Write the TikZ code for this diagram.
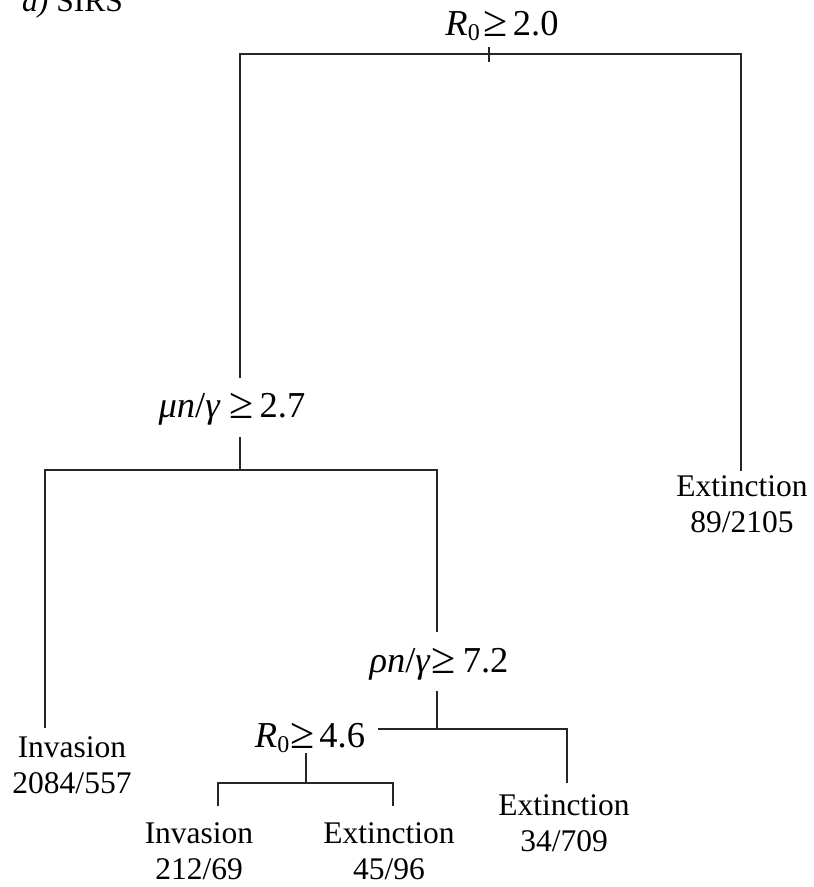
\documentclass[tikz,border=0pt]{standalone}
\usepackage{fontspec}
\setmainfont{Liberation Serif}
\begin{document}
\begin{tikzpicture}[x=1pt,y=-1pt,
  edge/.style={draw=black!85,line width=1.1pt},
  leaf/.style={inner sep=0pt,anchor=base,font=\fontsize{31.5}{36}\selectfont},
  split/.style={inner sep=0pt,anchor=base,font=\fontsize{36.5}{38}\selectfont}]
\useasboundingbox (0,0) rectangle (814,887);
\newcommand{\subz}[1]{\raisebox{-0.16em}{\fontsize{24}{24}\selectfont #1}}
\newcommand{\gte}{\raisebox{-0.05em}{\fontsize{44}{44}\selectfont ≥}}
\newcommand{\lf}[2]{\begin{tabular}[t]{@{}c@{}}#1\\#2\end{tabular}}
% title
\node[leaf,anchor=base west] (title) at (22,11) {\textit{a)} SIRS};
% split labels
\node[split] (s1) at (502,35) {\textit{R}\subz{0}\hspace{4pt}\gte\hspace{5pt}2.0};
\node[split] (s2) at (232,417) {\textit{μn}/\textit{γ}\hspace{9pt}\gte\hspace{6pt}2.7};
\node[split] (s3) at (439,672) {\textit{ρn}/\textit{γ}\hspace{1pt}\gte\hspace{7pt}7.2};
\node[split] (s4) at (310,747) {\textit{R}\subz{0}\hspace{1pt}\gte\hspace{5pt}4.6};
% leaves
\node[leaf] (e1) at (742,496) {\lf{Extinction}{89/2105}};
\node[leaf] (i1) at (72,757) {\lf{Invasion}{2084/557}};
\node[leaf] (e2) at (564,815) {\lf{Extinction}{34/709}};
\node[leaf] (i2) at (199,843) {\lf{Invasion}{212/69}};
\node[leaf] (e3) at (389,843) {\lf{Extinction}{45/96}};
% branch coordinates
\coordinate (t1a) at (489,47); \coordinate (t1b) at (489,62);
\coordinate (c1L) at (240,54); \coordinate (c1R) at (741,54);
\coordinate (e1t) at (741,471); \coordinate (s2t) at (240,378);
\coordinate (t2a) at (240,437); \coordinate (t2b) at (240,470);
\coordinate (c2L) at (45,470); \coordinate (c2R) at (437,470);
\coordinate (i1t) at (45,728); \coordinate (s3t) at (437,632);
\coordinate (t3a) at (437,691); \coordinate (t3b) at (437,729);
\coordinate (c3L) at (378,729); \coordinate (c3R) at (567,729);
\coordinate (e2t) at (567,783);
\coordinate (t4a) at (306,753); \coordinate (t4b) at (306,783);
\coordinate (c4L) at (218,783); \coordinate (c4R) at (393,783);
\coordinate (i2t) at (218,806); \coordinate (e3t) at (393,806);
% connectors
\draw[edge] (t1a) -- (t1b);
\draw[edge] (s2t) -- (c1L) -- (c1R) -- (e1t);
\draw[edge] (t2a) -- (t2b);
\draw[edge] (i1t) -- (c2L) -- (c2R) -- (s3t);
\draw[edge] (t3a) -- (t3b);
\draw[edge] (c3L) -- (c3R) -- (e2t);
\draw[edge] (t4a) -- (t4b);
\draw[edge] (i2t) -- (c4L) -- (c4R) -- (e3t);
\end{tikzpicture}
\end{document}
